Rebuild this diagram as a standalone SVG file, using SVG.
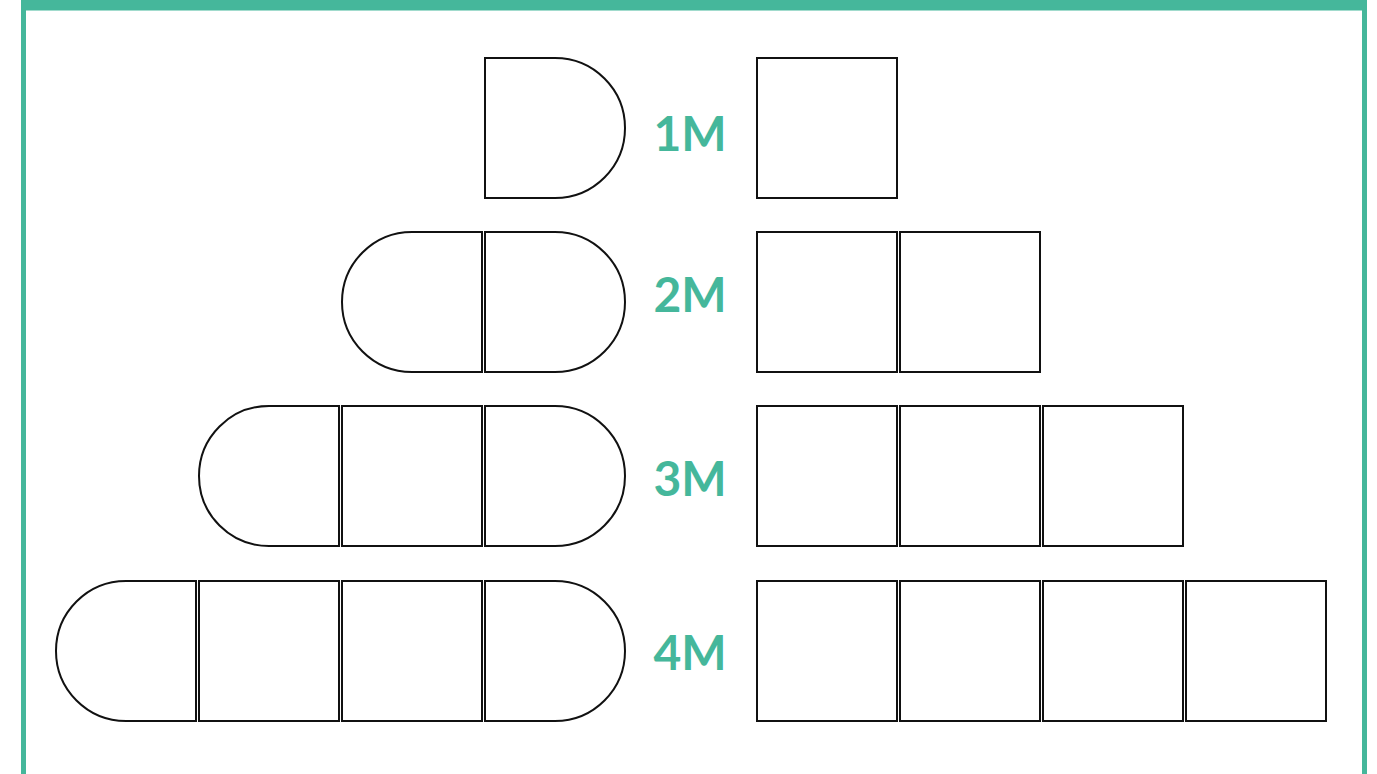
<svg xmlns="http://www.w3.org/2000/svg" width="1377" height="774" viewBox="0 0 1377 774">
<style>
.frame{fill:#45b79b}
.s{fill:#fff;stroke:#111;stroke-width:2}
.lbl{font-family:"Lato","Open Sans",sans-serif;font-weight:bold;font-size:48px;fill:#45b79b;text-anchor:middle}
</style>
<rect width="1377" height="774" fill="#fff"/>
<g id="frame">
<rect class="frame" x="21" y="0" width="1346" height="10.5"/>
<rect class="frame" x="21" y="0" width="5" height="774"/>
<rect class="frame" x="1362" y="0" width="5" height="774"/>
</g>
<g id="row1">
<path class="s" d="M485,58 H555 A70,70 0 0 1 555,198 H485 Z"/>
<text class="lbl" x="690" y="151">1M</text>
<rect class="s" x="757" y="58" width="140" height="140"/>
</g>
<g id="row2">
<path class="s" d="M482,232 H412 A70,70 0 0 0 412,372 H482 Z"/>
<path class="s" d="M485,232 H555 A70,70 0 0 1 555,372 H485 Z"/>
<text class="lbl" x="690" y="312">2M</text>
<rect class="s" x="757" y="232" width="140" height="140"/>
<rect class="s" x="900" y="232" width="140" height="140"/>
</g>
<g id="row3">
<path class="s" d="M339,406 H269 A70,70 0 0 0 269,546 H339 Z"/>
<rect class="s" x="342" y="406" width="140" height="140"/>
<path class="s" d="M485,406 H555 A70,70 0 0 1 555,546 H485 Z"/>
<text class="lbl" x="690" y="496">3M</text>
<rect class="s" x="757" y="406" width="140" height="140"/>
<rect class="s" x="900" y="406" width="140" height="140"/>
<rect class="s" x="1043" y="406" width="140" height="140"/>
</g>
<g id="row4">
<path class="s" d="M196,581 H126 A70,70 0 0 0 126,721 H196 Z"/>
<rect class="s" x="199" y="581" width="140" height="140"/>
<rect class="s" x="342" y="581" width="140" height="140"/>
<path class="s" d="M485,581 H555 A70,70 0 0 1 555,721 H485 Z"/>
<text class="lbl" x="690" y="670">4M</text>
<rect class="s" x="757" y="581" width="140" height="140"/>
<rect class="s" x="900" y="581" width="140" height="140"/>
<rect class="s" x="1043" y="581" width="140" height="140"/>
<rect class="s" x="1186" y="581" width="140" height="140"/>
</g>
<g id="connectors"/>
</svg>
